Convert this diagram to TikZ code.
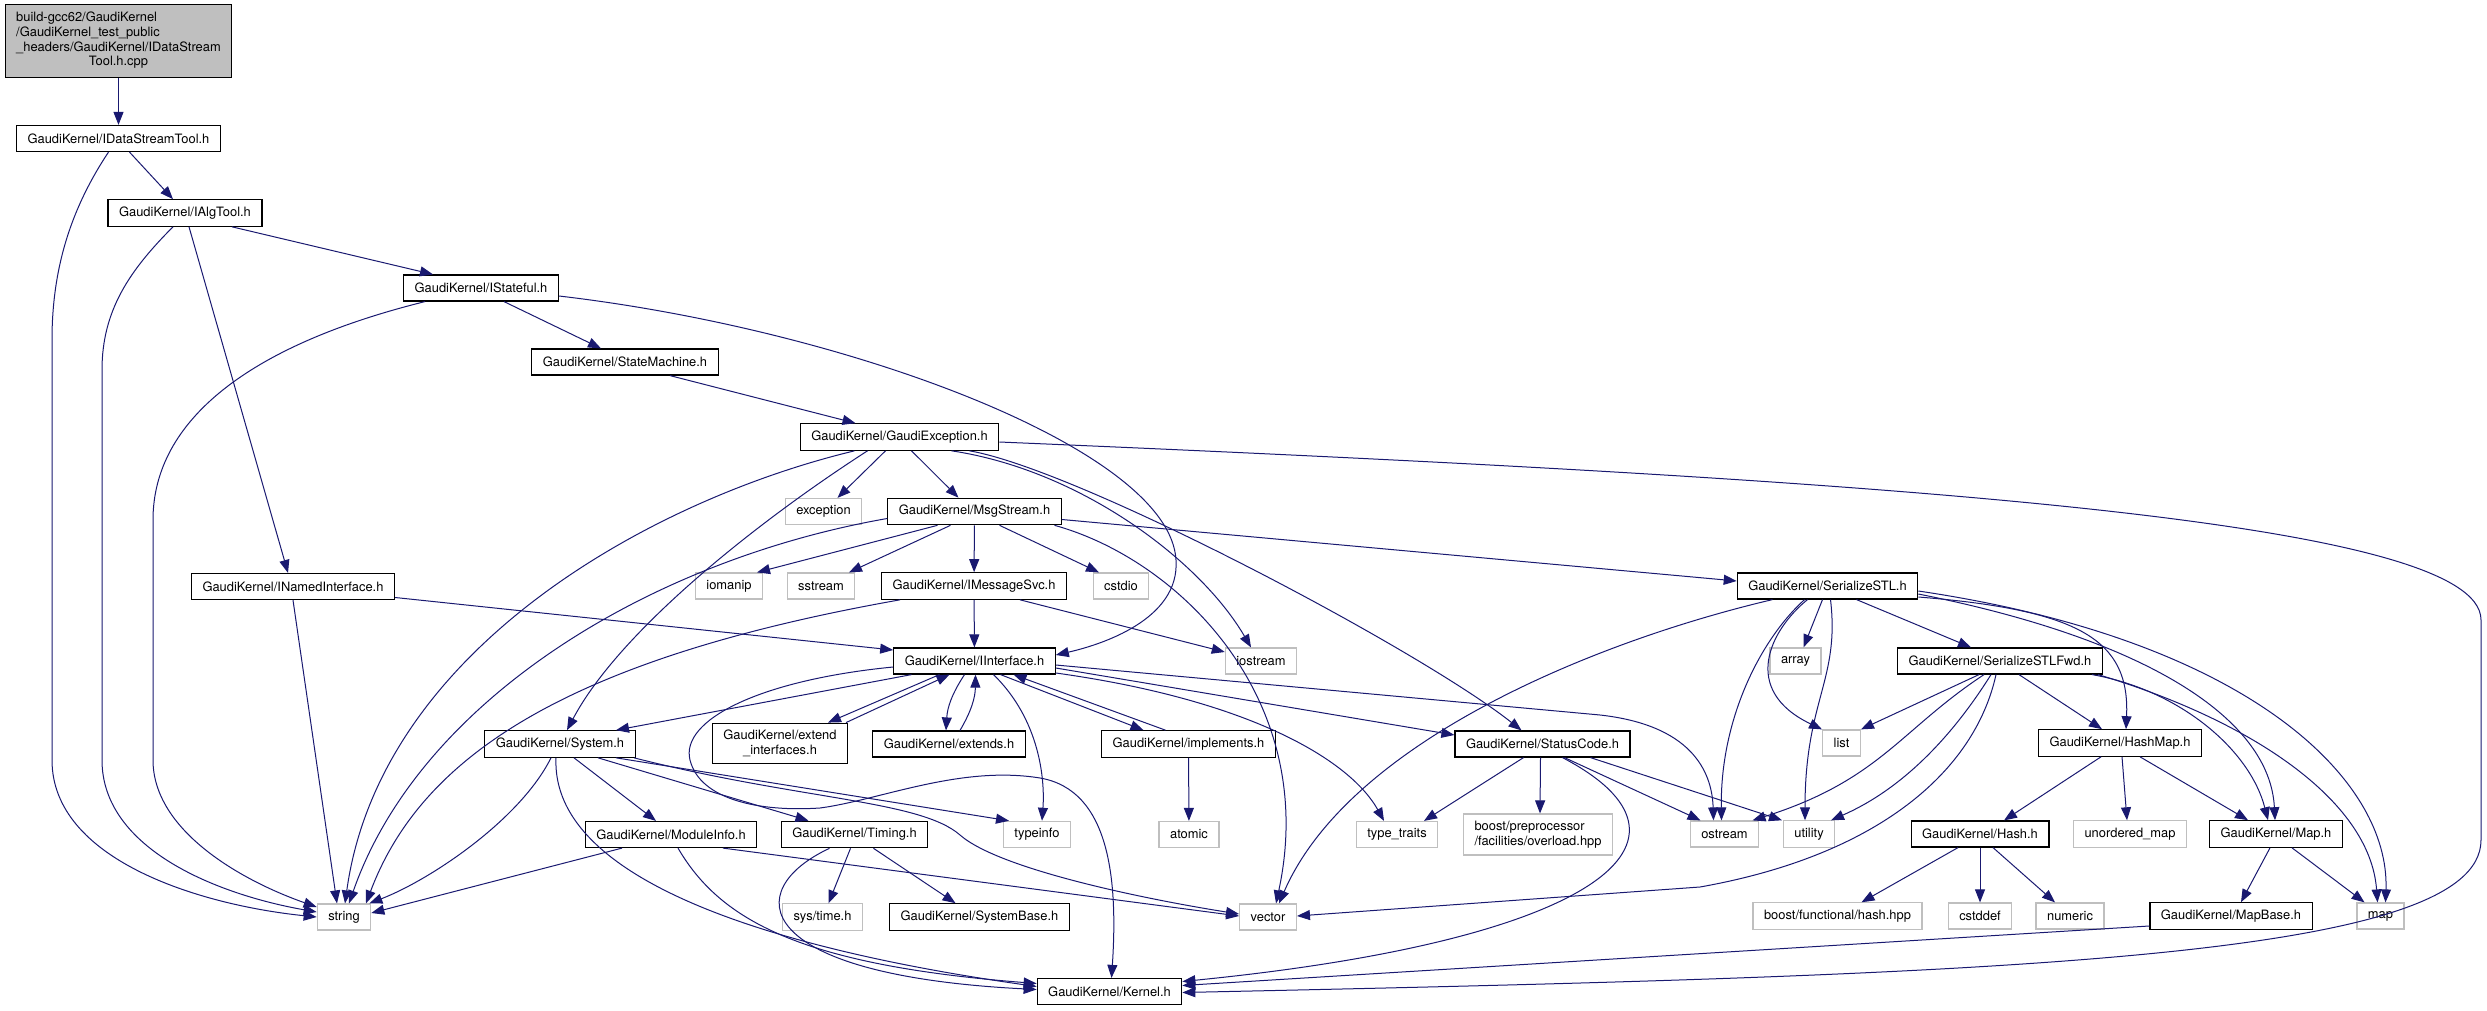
\documentclass[tikz,border=0pt]{standalone}
\usepackage{fontspec}
\setmainfont{TeX Gyre Heros}
\usepackage{xcolor}
\usetikzlibrary{arrows.meta}
\definecolor{edgeblue}{HTML}{191970}
\definecolor{grey75}{HTML}{BFBFBF}
\tikzset{
  doc/.style={draw=black, line width=1.2pt, fill=white, inner xsep=11pt, inner ysep=7pt,
    minimum height=26pt, align=center, font=\fontsize{12.9}{14.7}\selectfont},
  ext/.style={doc, draw=grey75},
  inc/.style={draw=edgeblue, line width=1pt, -{Triangle[length=13pt, width=10pt]}}
}
\begin{document}
\begin{tikzpicture}[x=1pt, y=-1pt]
    \useasboundingbox (0, 0) rectangle (2487, 1011);
    % File
    \node [doc, fill=grey75] (cpp) at (118.5, 41) {\begin{tabular}{@{}l@{}}build-gcc62/GaudiKernel\\/GaudiKernel\_test\_public\\\_headers/GaudiKernel/IDataStream\\\multicolumn{1}{@{}c@{}}{Tool.h.cpp}\end{tabular}};
    % Headers
    \node [doc] (idst) at (118.5, 138.5) {GaudiKernel/IDataStreamTool.h};
    \node [doc] (ialgtool) at (185, 213) {GaudiKernel/IAlgTool.h};
    \node [doc] (istateful) at (481, 288) {GaudiKernel/IStateful.h};
    \node [doc] (statemach) at (625, 362) {GaudiKernel/StateMachine.h};
    \node [doc] (gexcept) at (899.5, 437) {GaudiKernel/GaudiException.h};
    \node [ext] (exceptn) at (823.5, 511.5) {exception};
    \node [doc] (msgstream) at (974.5, 511.5) {GaudiKernel/MsgStream.h};
    \node [doc] (inamed) at (293, 586.5) {GaudiKernel/INamedInterface.h};
    \node [ext] (iomanip) at (729, 586) {iomanip};
    \node [ext] (sstream) at (821, 586) {sstream};
    \node [doc] (imsgsvc) at (974, 586) {GaudiKernel/IMessageSvc.h};
    \node [ext] (cstdio) at (1121, 586) {cstdio};
    \node [doc] (sstl) at (1827.5, 586) {GaudiKernel/SerializeSTL.h};
    \node [doc] (iiface) at (974.5, 661) {GaudiKernel/IInterface.h};
    \node [ext] (iostream) at (1261, 661) {iostream};
    \node [ext] (array) at (1795.5, 661) {array};
    \node [doc] (sstlfwd) at (2000, 661) {GaudiKernel/SerializeSTLFwd.h};
    \node [doc] (system) at (560, 744) {GaudiKernel/System.h};
    \node [doc] (extifaces) at (780, 743.5) {GaudiKernel/extend\\\_interfaces.h};
    \node [doc] (extends) at (949, 744) {GaudiKernel/extends.h};
    \node [doc] (implements) at (1188.5, 744) {GaudiKernel/implements.h};
    \node [doc] (statuscode) at (1542.5, 744) {GaudiKernel/StatusCode.h};
    \node [ext] (list) at (1841.5, 743) {list};
    \node [doc] (hashmap) at (2120, 743) {GaudiKernel/HashMap.h};
    \node [doc] (modinfo) at (671, 834.5) {GaudiKernel/ModuleInfo.h};
    \node [doc] (timing) at (854.5, 834.5) {GaudiKernel/Timing.h};
    \node [ext] (typeinfo) at (1037, 834.5) {typeinfo};
    \node [ext] (atomic) at (1189, 834.5) {atomic};
    \node [ext] (typetraits) at (1397, 834.5) {type\_traits};
    \node [ext, align=left] (boostpp) at (1538, 834.5) {boost/preprocessor\\/facilities/overload.hpp};
    \node [ext] (ostream) at (1724.5, 834) {ostream};
    \node [ext] (utility) at (1809, 834) {utility};
    \node [doc] (hash) at (1980, 834) {GaudiKernel/Hash.h};
    \node [ext] (unordmap) at (2130, 834) {unordered\_map};
    \node [doc] (maph) at (2276, 834) {GaudiKernel/Map.h};
    \node [ext] (string) at (344, 917) {string};
    \node [ext] (systime) at (822.5, 917) {sys/time.h};
    \node [doc] (sysbase) at (979.5, 917) {GaudiKernel/SystemBase.h};
    \node [ext] (vector) at (1268, 917) {vector};
    \node [ext] (boosthash) at (1837.5, 916) {boost/functional/hash.hpp};
    \node [ext] (cstddef) at (1980, 916) {cstddef};
    \node [ext] (numeric) at (2070, 916) {numeric};
    \node [doc] (mapbase) at (2231, 916) {GaudiKernel/MapBase.h};
    \node [ext] (map) at (2380.5, 916) {map};
    \node [doc] (kernel) at (1109.5, 991.5) {GaudiKernel/Kernel.h};
    % Includes of the file and of IDataStreamTool.h
    \draw [inc] (cpp) -- (idst);
    \draw [inc] ([xshift=11pt]idst.south) -- ([xshift=-12pt]ialgtool.north);
    \draw [inc] ([xshift=-10pt]idst.south) .. controls (70, 210) and (52, 270) .. (52, 340) -- (52, 760) .. controls (52, 860) and (200, 905) .. (string.west);
    % IAlgTool.h
    \draw [inc] ([xshift=47pt]ialgtool.south) -- ([xshift=-48pt]istateful.north);
    \draw [inc] ([xshift=-12pt]ialgtool.south) .. controls (130, 270) and (102, 310) .. (102, 370) -- (102, 760) .. controls (102, 850) and (220, 895) .. ([yshift=5pt]string.west);
    \draw [inc] ([xshift=4pt]ialgtool.south) -- ([xshift=-5pt]inamed.north);
    % IStateful.h
    \draw [inc] ([xshift=23pt]istateful.south) -- ([xshift=-24pt]statemach.north);
    \draw [inc] ([xshift=-56pt]istateful.south) .. controls (250, 345) and (153, 420) .. (153, 520) -- (153, 760) .. controls (153, 830) and (240, 880) .. ([yshift=10pt]string.west);
    \draw [inc] ([yshift=-8pt]istateful.east) .. controls (850, 330) and (1170, 450) .. (1176, 560) .. controls (1180, 620) and (1100, 645) .. ([yshift=6pt]iiface.east);
    % StateMachine.h
    \draw [inc] ([xshift=45pt]statemach.south) -- ([xshift=-44pt]gexcept.north);
    % GaudiException.h
    \draw [inc] ([xshift=-14pt]gexcept.south) -- ([xshift=14pt]exceptn.north);
    \draw [inc] ([xshift=12pt]gexcept.south) -- ([xshift=-16pt]msgstream.north);
    \draw [inc] ([xshift=-45pt]gexcept.south) .. controls (650, 500) and (380, 650) .. ([xshift=1pt]string.north);
    \draw [inc] ([xshift=-32pt]gexcept.south) .. controls (760, 520) and (620, 630) .. ([xshift=7pt]system.north);
    \draw [inc] ([xshift=52pt]gexcept.south) .. controls (1080, 470) and (1200, 560) .. ([xshift=-10pt]iostream.north);
    \draw [inc] ([xshift=70pt]gexcept.south) .. controls (1080, 470) and (1420, 650) .. ([xshift=-21pt]statuscode.north);
    \draw [inc] ([yshift=-5pt]gexcept.east) .. controls (1900, 480) and (2481, 520) .. (2481, 620) -- (2481, 840) .. controls (2481, 960) and (2000, 975) .. ([yshift=-1pt]kernel.east);
    % MsgStream.h
    \draw [inc] ([yshift=-7pt]msgstream.west) .. controls (650, 560) and (420, 700) .. ([xshift=5pt]string.north);
    \draw [inc] ([xshift=-37pt]msgstream.south) -- ([xshift=28pt]iomanip.north);
    \draw [inc] ([xshift=-24pt]msgstream.south) -- ([xshift=28pt]sstream.north);
    \draw [inc] (msgstream) -- (imsgsvc);
    \draw [inc] ([xshift=25pt]msgstream.south) -- ([xshift=-22pt]cstdio.north);
    \draw [inc] ([xshift=80pt]msgstream.south) .. controls (1180, 560) and (1320, 700) .. ([xshift=8pt]vector.north);
    \draw [inc] ([yshift=-8pt]msgstream.east) -- ([yshift=5pt]sstl.west);
    % IMessageSvc.h
    \draw [inc] ([xshift=-74pt]imsgsvc.south) .. controls (560, 660) and (420, 760) .. ([xshift=22pt]string.north);
    \draw [inc] (imsgsvc) -- (iiface);
    \draw [inc] ([xshift=46pt]imsgsvc.south) -- ([yshift=9pt]iostream.west);
    % INamedInterface.h
    \draw [inc] ([yshift=-11pt]inamed.east) -- ([yshift=11pt]iiface.west);
    \draw [inc] (inamed.south) -- ([xshift=-7pt]string.north);
    % IInterface.h
    \draw [inc] ([xshift=-63pt]iiface.south) -- ([xshift=56pt]system.north);
    \draw [inc] ([xshift=-35pt]iiface.south) -- ([xshift=48pt]extifaces.north);
    \draw [inc] ([xshift=66pt]extifaces.north) -- ([xshift=-25pt]iiface.south);
    \draw [inc] ([xshift=-10pt]iiface.south) to [bend right=15] ([xshift=-3pt]extends.north);
    \draw [inc] ([xshift=11pt]extends.north) to [bend right=15] ([xshift=1pt]iiface.south);
    \draw [inc] ([xshift=26pt]iiface.south) -- ([xshift=-45pt]implements.north);
    \draw [inc] ([xshift=-23pt]implements.north) -- ([xshift=39pt]iiface.south);
    \draw [inc] ([xshift=19pt]iiface.south) .. controls (1040, 720) and (1045, 780) .. ([xshift=5pt]typeinfo.north);
    \draw [inc] ([yshift=-6pt]iiface.west) .. controls (760, 680) and (680, 720) .. (690, 760) .. controls (700, 800) and (760, 812) .. (820, 808) .. controls (880, 800) and (960, 765) .. (1040, 778) .. controls (1110, 790) and (1118, 880) .. ([xshift=2pt]kernel.north);
    \draw [inc] ([yshift=-7pt]iiface.east) -- ([yshift=9pt]statuscode.west);
    \draw [inc] ([yshift=-12pt]iiface.east) .. controls (1250, 700) and (1350, 760) .. ([xshift=-13pt]typetraits.north);
    \draw [inc] ([yshift=-4pt]iiface.east) -- (1600, 715) .. controls (1690, 725) and (1712, 770) .. ([xshift=-11pt]ostream.north);
    % System.h
    \draw [inc] ([xshift=-9pt]system.south) .. controls (520, 820) and (430, 880) .. ([xshift=-2pt]string.north east);
    \draw [inc] ([xshift=-4pt]system.south) .. controls (550, 900) and (850, 960) .. ([yshift=5pt]kernel.west);
    \draw [inc] ([xshift=14pt]system.south) -- ([xshift=-15pt]modinfo.north);
    \draw [inc] ([xshift=38pt]system.south) -- ([xshift=-46pt]timing.north);
    \draw [inc] ([xshift=56pt]system.south) -- ([xshift=-28pt]typeinfo.north);
    \draw [inc] ([xshift=74pt]system.south) .. controls (800, 800) and (920, 800) .. (960, 835) .. controls (1000, 870) and (1150, 900) .. ([yshift=3pt]vector.west);
    % ModuleInfo.h and Timing.h
    \draw [inc] ([xshift=-49pt]modinfo.south) -- ([yshift=4pt]string.east);
    \draw [inc] ([xshift=7pt]modinfo.south) .. controls (720, 920) and (800, 965) .. ([yshift=8pt]kernel.west);
    \draw [inc] ([xshift=52pt]modinfo.south) -- ([yshift=1pt]vector.west);
    \draw [inc] ([xshift=-4pt]timing.south) -- ([xshift=6pt]systime.north);
    \draw [inc] ([xshift=19pt]timing.south) -- ([xshift=-24pt]sysbase.north);
    \draw [inc] ([xshift=-25pt]timing.south) .. controls (740, 890) and (750, 975) .. ([yshift=2pt]kernel.west);
    % implements.h and StatusCode.h
    \draw [inc] (implements) -- (atomic);
    \draw [inc] ([xshift=-19pt]statuscode.south) -- ([xshift=27pt]typetraits.north);
    \draw [inc] ([xshift=-2pt]statuscode.south) -- ([xshift=2pt]boostpp.north);
    \draw [inc] ([xshift=22pt]statuscode.south) -- ([xshift=-24pt]ostream.north);
    \draw [inc] ([xshift=48pt]statuscode.south) -- ([xshift=-27pt]utility.north);
    \draw [inc] ([xshift=20pt]statuscode.south) .. controls (1720, 840) and (1600, 940) .. ([yshift=10pt]kernel.east);
    % SerializeSTL.h
    \draw [inc] ([xshift=-55pt]sstl.south) .. controls (1600, 640) and (1350, 740) .. ([xshift=11pt]vector.north);
    \draw [inc] ([xshift=-23pt]sstl.south) .. controls (1760, 640) and (1720, 720) .. ([xshift=-3pt]ostream.north);
    \draw [inc] ([xshift=-20pt]sstl.south) .. controls (1770, 630) and (1740, 690) .. (list.north west);
    \draw [inc] ([xshift=-5pt]sstl.south) -- ([xshift=8pt]array.north);
    \draw [inc] ([xshift=3pt]sstl.south) .. controls (1840, 680) and (1805, 700) .. ([xshift=-4pt]utility.north);
    \draw [inc] ([xshift=29pt]sstl.south) -- ([xshift=-29pt]sstlfwd.north);
    \draw [inc] ([yshift=-11pt]sstl.east) .. controls (2080, 610) and (2130, 640) .. ([xshift=6pt]hashmap.north);
    \draw [inc] ([yshift=-8pt]sstl.east) .. controls (2150, 640) and (2270, 720) .. ([xshift=-1pt]maph.north);
    \draw [inc] ([yshift=-5pt]sstl.east) .. controls (2250, 640) and (2390, 780) .. ([xshift=5pt]map.north);
    % SerializeSTLFwd.h
    \draw [inc] ([xshift=-21pt]sstlfwd.south) -- (list.north east);
    \draw [inc] ([xshift=-16pt]sstlfwd.south) .. controls (1900, 730) and (1880, 780) .. ([xshift=28pt]ostream.north);
    \draw [inc] ([xshift=-9pt]sstlfwd.south) .. controls (1950, 740) and (1900, 790) .. ([xshift=22pt]utility.north);
    \draw [inc] ([xshift=-4pt]sstlfwd.south) .. controls (1975, 770) and (1880, 855) .. (1700, 887) -- ([yshift=1pt]vector.east);
    \draw [inc] ([xshift=19pt]sstlfwd.south) -- ([xshift=-18pt]hashmap.north);
    \draw [inc] ([xshift=92pt]sstlfwd.south) .. controls (2180, 690) and (2250, 750) .. ([xshift=-8pt]maph.north);
    \draw [inc] ([xshift=-5pt]sstlfwd.south east) .. controls (2250, 720) and (2370, 800) .. ([xshift=-3pt]map.north);
    % HashMap.h, Hash.h, Map.h, MapBase.h
    \draw [inc] ([xshift=-19pt]hashmap.south) -- ([xshift=24pt]hash.north);
    \draw [inc] ([xshift=2pt]hashmap.south) -- ([xshift=-3pt]unordmap.north);
    \draw [inc] ([xshift=20pt]hashmap.south) -- ([xshift=-28pt]maph.north);
    \draw [inc] ([xshift=-22pt]hash.south) -- ([xshift=24pt]boosthash.north);
    \draw [inc] (hash) -- (cstddef);
    \draw [inc] ([xshift=13pt]hash.south) -- ([xshift=-15pt]numeric.north);
    \draw [inc] ([xshift=-6pt]maph.south) -- ([xshift=10pt]mapbase.north);
    \draw [inc] ([xshift=16pt]maph.south) -- ([xshift=-16pt]map.north);
    \draw [inc] ([yshift=-10pt]mapbase.west) -- ([yshift=6pt]kernel.east);
\end{tikzpicture}
\end{document}
